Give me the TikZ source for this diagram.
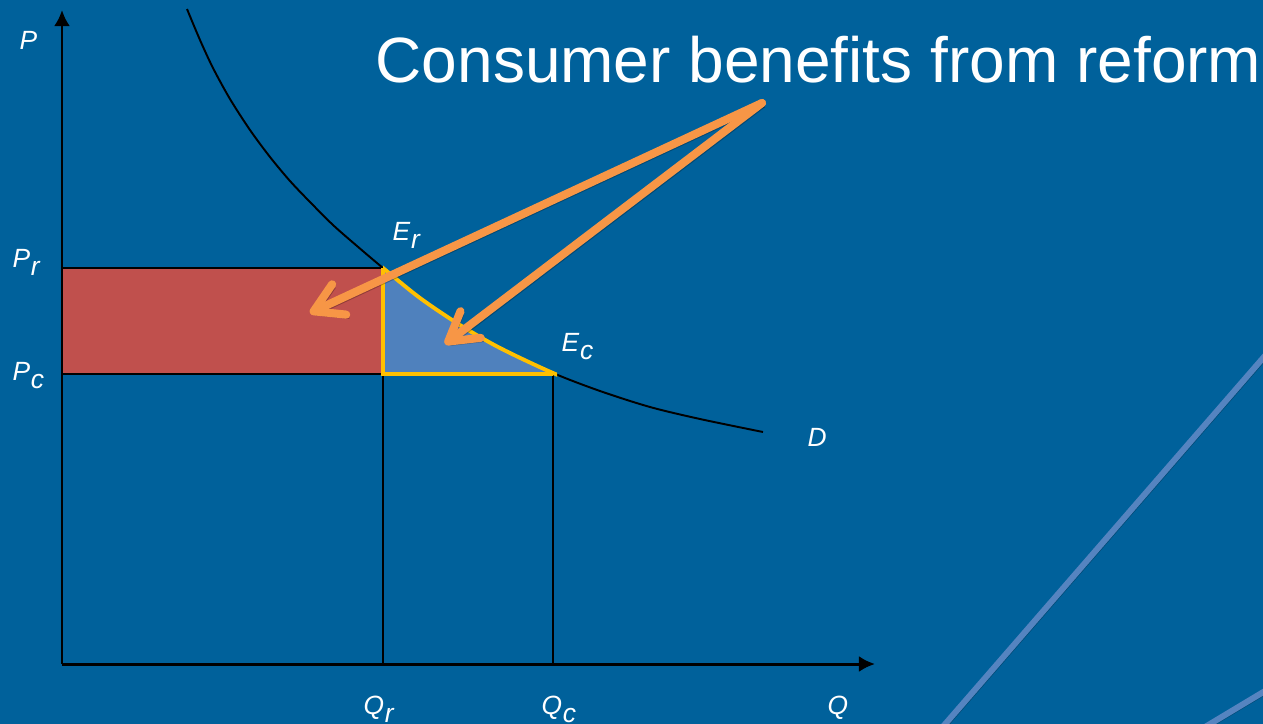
\documentclass[tikz,border=0pt]{standalone}
\usepackage{fontspec}
\setmainfont{Liberation Sans}
\usetikzlibrary{arrows.meta}

\definecolor{slideblue}{RGB}{0,97,155}
\definecolor{lossred}{RGB}{192,80,77}
\definecolor{gainblue}{RGB}{79,129,189}
\definecolor{edgeyellow}{RGB}{255,192,0}
\definecolor{callout}{RGB}{247,150,70}
\definecolor{decoline}{RGB}{85,132,192}

\newcommand\lowidx[1]{\kern0.2pt\raisebox{-2.3pt}{#1}}
\newcommand\demandpath{plot[smooth] coordinates {(187,9) (200,40) (213,68) (230,99) (250,130) (270,157) (290,181) (310,202) (333,225) (357,246) (383,268) (420,298) (460,325) (500,348) (553,373) (600,391) (650,407) (700,419) (763,432)}}

\begin{document}
\begin{tikzpicture}[
    x=0.01cm, y=-0.01cm,
    axis/.style={line width=0.85pt, -{Latex[length=4.6pt,width=4.6pt]}},
    guide/.style={line width=0.5pt},
    demand/.style={line width=0.55pt},
    edge/.style={edgeyellow, line width=1.1pt},
    lbl/.style={text=white, font=\fontsize{7.5}{9}\selectfont\itshape, inner sep=0pt, anchor=base west},
    headline/.style={text=white, font=\fontsize{18.2}{22}\selectfont, inner sep=0pt, anchor=base west},
    pointer/.style={callout, line width=2.3pt, line cap=round,
        -{Straight Barb[length=8pt,width=9.5pt,round]},
        preaction={draw=black, draw opacity=.25, transform canvas={xshift=0.8pt,yshift=-1pt}}},
    deco/.style={decoline, line width=1.7pt,
        preaction={draw=black, draw opacity=.25, transform canvas={xshift=0.6pt,yshift=-0.6pt}}}
]

% Background & frame
\fill[slideblue] (0,0) rectangle (1263,724);
\useasboundingbox (0,0) rectangle (1263,724);
\draw[deco] (940,730) -- (1270,350);
\draw[deco] (1200,730) -- (1270,688);

% Key points
\coordinate (O) at (62,664);
\coordinate (Ptop) at (62,10);
\coordinate (Qend) at (875,664);
\coordinate (Er) at (383,268);
\coordinate (Ec) at (553,374);
\coordinate (Pr) at (62,268);
\coordinate (Pc) at (62,374);
\coordinate (Qr) at (383,664);
\coordinate (Qc) at (553,664);

% Surplus areas
\fill[lossred] (Pr) rectangle (Pc -| Er);
\begin{scope}
    \clip (Er) rectangle (Ec);
    \fill[gainblue] \demandpath -- (763,700) -- (187,700) -- cycle;
\end{scope}

% Price & quantity guides
\draw[guide] (Pr) -- (Er);
\draw[guide] (Pc) -- (Ec);
\draw[guide] (Er) -- (Qr);
\draw[guide] (Ec) -- (Qc);

% Demand curve
\draw[demand] \demandpath;

% Outline of the triangle
\draw[edge] (Er) -- (Er |- Ec) -- (Ec);
\begin{scope}
    \clip (383,240) rectangle (557,390);
    \draw[edge] \demandpath;
\end{scope}

% Axes
\draw[axis] (O) -- (Ptop);
\draw[axis] (O) -- (Qend);

% Callout arrows
\coordinate (src) at (762,103);
\coordinate (lossTip) at (310,313);
\coordinate (gainTip) at (445,344);
\draw[pointer] (src) -- (lossTip);
\draw[pointer] (src) -- (gainTip);

% Labels
\node[headline] (head) at (375,82) {Consumer benefits from reform};
\node[lbl] (lP) at (19,49) {P};
\node[lbl] (lPr) at (12,267) {P\lowidx{r}};
\node[lbl] (lPc) at (12,380) {P\lowidx{c}};
\node[lbl] (lEr) at (392,240) {E\lowidx{r}};
\node[lbl] (lEc) at (561,351) {E\lowidx{c}};
\node[lbl] (lD) at (807,446) {D};
\node[lbl] (lQr) at (363,714) {Q\lowidx{r}};
\node[lbl] (lQc) at (541,714) {Q\lowidx{c}};
\node[lbl] (lQ) at (827,714) {Q};

\end{tikzpicture}
\end{document}
